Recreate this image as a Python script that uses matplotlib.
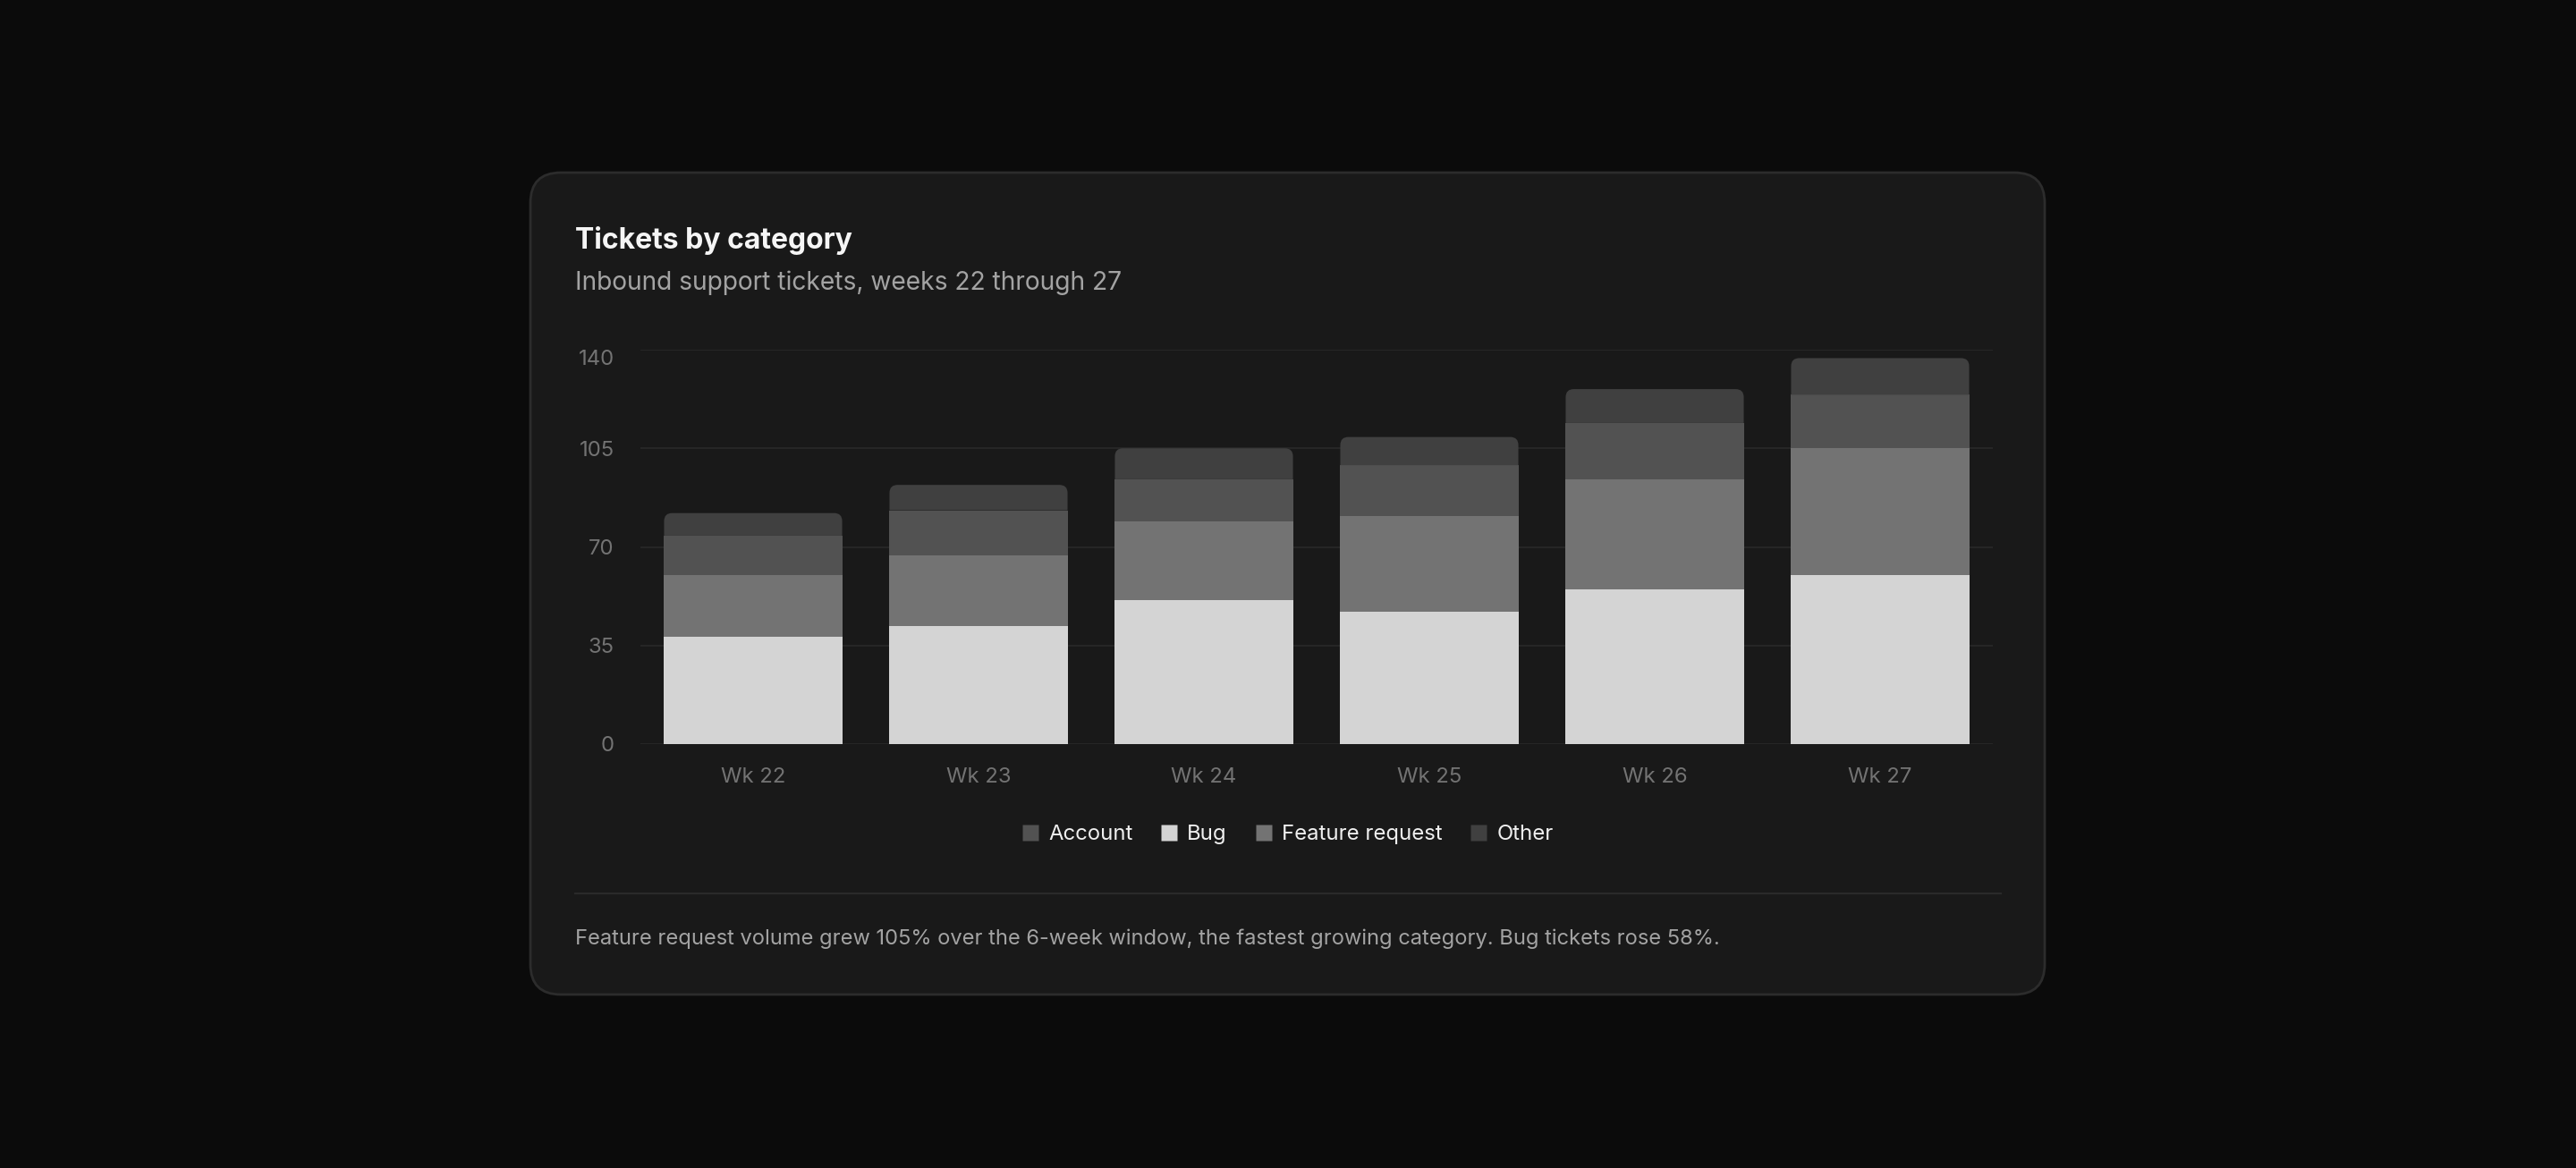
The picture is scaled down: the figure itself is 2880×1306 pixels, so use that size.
import matplotlib
matplotlib.use("Agg")
import matplotlib.pyplot as plt
import matplotlib.transforms as mtransforms
from matplotlib.patches import FancyBboxPatch, PathPatch
from matplotlib.lines import Line2D
from matplotlib.path import Path
import numpy as np

plt.rcParams['font.family'] = ['Inter', 'DejaVu Sans']

weeks = ["Wk 22", "Wk 23", "Wk 24", "Wk 25", "Wk 26", "Wk 27"]
bug = [38, 42, 51, 47, 55, 60]
feature = [22, 25, 28, 34, 39, 45]
account = [14, 16, 15, 18, 20, 19]
other = [8, 9, 11, 10, 12, 13]
yticks = [0, 35, 70, 105, 140]

colors = {"Account": "#525252", "Bug": "#d4d4d4",
          "Feature request": "#737373", "Other": "#404040"}

W, H = 2880, 1306
fig = plt.figure(figsize=(W / 200, H / 200), dpi=200, facecolor="#0b0b0b")

# background layer in pixel coordinates
bg = fig.add_axes([0, 0, 1, 1], zorder=-1)
bg.set_xlim(0, W)
bg.set_ylim(H, 0)
bg.axis("off")
card = FancyBboxPatch((593, 193), 1693, 919,
                      boxstyle="round,pad=0,rounding_size=34",
                      facecolor="#191919", edgecolor="#2c2c2c", linewidth=1.0)
bg.add_patch(card)
bg.text(643, 278, "Tickets by category", fontsize=11.5, fontweight="bold",
        color="#f5f5f5", va="baseline", ha="left")
bg.text(643, 324, "Inbound support tickets, weeks 22 through 27", fontsize=10.15,
        color="#a3a3a3", va="baseline", ha="left")
bg.plot([643, 2237], [999, 999], color="#2a2a2a", lw=0.8)
bg.text(643, 1056, "Feature request volume grew 105% over the 6-week window, "
        "the fastest growing category. Bug tickets rose 58%.",
        fontsize=8.53, color="#a3a3a3", va="baseline", ha="left")

# chart
ax = fig.add_axes([716 / W, 1 - 832 / H, 1512 / W, 441 / H])
ax.set_facecolor("none")
x = np.arange(len(weeks))
bw = 0.79
bottom = np.zeros(len(weeks))
stack = [("Bug", bug), ("Feature request", feature), ("Account", account), ("Other", other)]
containers = []
for name, vals in stack:
    c = ax.bar(x, vals, bw, bottom=bottom, color=colors[name], zorder=3, linewidth=0)
    containers.append(c)
    bottom = bottom + np.array(vals)

ax.set_xlim(-0.5, len(weeks) - 0.5)
ax.set_ylim(0, 140)
ax.set_yticks(yticks)
ax.set_xticks(x)
ax.set_xticklabels(weeks)
ax.grid(axis="y", color="#262626", lw=0.75, zorder=0)
for s in ax.spines.values():
    s.set_visible(False)
ax.tick_params(axis="both", length=0, colors="#737373", labelsize=8.6)
ax.tick_params(axis="y", pad=10.5)
ax.tick_params(axis="x", pad=9.3)

# top y label sits a little below its gridline in the original
fig.canvas.draw()
top_lbl = ax.get_yticklabels()[-1]
top_lbl.set_transform(top_lbl.get_transform() +
                      mtransforms.ScaledTranslation(0, -8 / 200, fig.dpi_scale_trans))

# round the top corners of the top segment
p0, p1 = ax.transData.transform([(0, 0), (1, 1)])
r = 9
rx = r / (p1[0] - p0[0])
ry = r / (p1[1] - p0[1])
for rect in containers[-1]:
    x0, y0 = rect.get_x(), rect.get_y()
    x1, y1 = x0 + rect.get_width(), y0 + rect.get_height()
    verts = [(x0, y0), (x0, y1 - ry), (x0, y1), (x0 + rx, y1),
             (x1 - rx, y1), (x1, y1), (x1, y1 - ry), (x1, y0), (x0, y0)]
    codes = [Path.MOVETO, Path.LINETO, Path.CURVE3, Path.CURVE3,
             Path.LINETO, Path.CURVE3, Path.CURVE3, Path.LINETO, Path.CLOSEPOLY]
    ax.add_patch(PathPatch(Path(verts, codes), facecolor=rect.get_facecolor(),
                           edgecolor="none", zorder=3))
    rect.set_visible(False)

handles = [Line2D([], [], marker="s", linestyle="none", markersize=6.2,
                  markerfacecolor=colors[n], markeredgecolor="none")
           for n in ["Account", "Bug", "Feature request", "Other"]]
leg = fig.legend(handles, ["Account", "Bug", "Feature request", "Other"],
                 loc="center", bbox_to_anchor=(0.5, 1 - 933 / H), ncol=4,
                 frameon=False, fontsize=8.6, handlelength=0.7,
                 handletextpad=0.5, columnspacing=1.35, borderaxespad=0)
for t in leg.get_texts():
    t.set_color("#f0f0f0")

fig.savefig("out.png", dpi=200, facecolor=fig.get_facecolor())
